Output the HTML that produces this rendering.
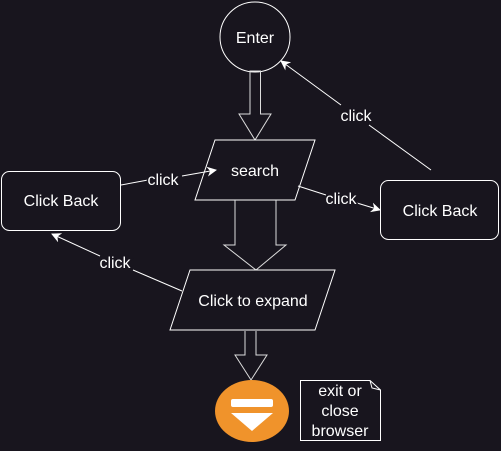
<!DOCTYPE html>
<html><head><style>html,body{margin:0;padding:0;background:#18151e;}svg{display:block}</style></head>
<body>
<svg width="501" height="451" viewBox="0 0 501 451" xmlns="http://www.w3.org/2000/svg" font-family="Liberation Sans, sans-serif">
<defs><marker id="a" markerWidth="10" markerHeight="10" refX="9" refY="5" orient="auto" markerUnits="userSpaceOnUse"><path d="M0,0 L10,5 L0,10 L3,5 Z" fill="#fff"/></marker></defs>
<rect width="501" height="451" fill="#18151e"/>
<g fill="none" stroke="#fff" stroke-width="1">
<circle cx="255" cy="37" r="35" fill="#18151e"/>
<path d="M250,71 V114 H239 L255,140 L271,114 H260.5 V71 Z" stroke="#ddd"/>
<path d="M215,140 H315 L295,200 H195 Z" fill="#18151e"/>
<path d="M235,200 V245 H224 L256,270 L286,245 H276 V200" stroke="#ddd"/>
<path d="M190,270 H335 L315,330 H170 Z" fill="#18151e"/>
<path d="M245,331 V355 H235 L251,380 L267,355 H256 V331" stroke="#ddd"/>
<rect x="1.5" y="171.5" width="119" height="59" rx="8"/>
<rect x="380.5" y="180.5" width="118" height="59" rx="8"/>
<path d="M300.5,380.5 H370 L380.5,390 V440.5 H300.5 Z"/>
<path d="M370,380.5 L372,388 L380.5,390"/>
<path d="M121,185 L148,180 M182,176 L216,170" marker-end="url(#a)"/>
<path d="M298,186 L326,195 M357,203 L380,210" marker-end="url(#a)"/>
<path d="M431,170 L369,125 M341,105 L281,61" marker-end="url(#a)"/>
<path d="M182,291 L133,270 M100,256 L52,234" marker-end="url(#a)"/>
</g>
<ellipse cx="252" cy="411" rx="37" ry="31" fill="#f0932b"/>
<rect x="231" y="399" width="42" height="8" rx="2" fill="#fff"/>
<path d="M231,413 H273 L252,431 Z" fill="#fff"/>
<g fill="#fff" font-size="16" text-anchor="middle">
<text x="255" y="43">Enter</text>
<text x="255" y="176">search</text>
<text x="253" y="306">Click to expand</text>
<text x="61" y="206">Click Back</text>
<text x="440" y="216">Click Back</text>
<g fill="#fff" style="paint-order:stroke" stroke="#18151e" stroke-width="3">
<text x="163" y="185">click</text>
<text x="341" y="204">click</text>
<text x="356" y="121">click</text>
<text x="115" y="268">click</text>
</g>
<text x="340" y="396">exit or</text>
<text x="340" y="416">close</text>
<text x="340" y="436">browser</text>
</g>
</svg>
</body></html>
